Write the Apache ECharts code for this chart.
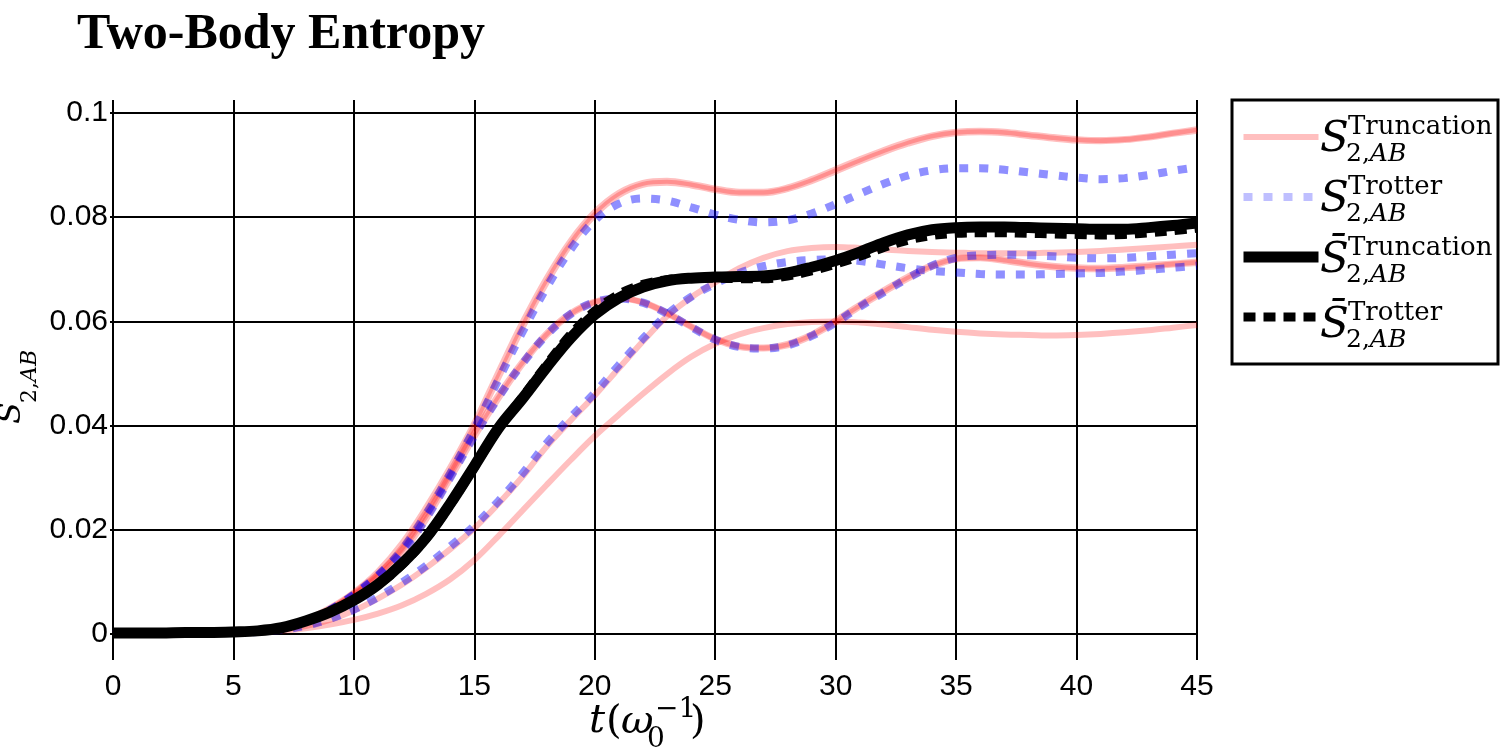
<!DOCTYPE html>
<html>
<head>
<meta charset="utf-8">
<script src="https://cdn.jsdelivr.net/npm/echarts@6/dist/echarts.min.js"></script>
<style>
  html, body { margin: 0; padding: 0; background: #fff; }
  #chart { width: 1500px; height: 750px; }
</style>
</head>
<body>
<div id="chart"></div>
<script>
// time axis, t = 0..45
const times = [0,1,2,3,4,5,6,7,8,9,10,11,12,13,14,15,16,17,18,19,20,21,22,23,24,25,26,27,28,29,30,31,32,33,34,35,36,37,38,39,40,41,42,43,44,45];

// truncation runs (pink)
const truncA = [0.0000,0.0001,0.0001,0.0002,0.0002,0.0003,0.0006,0.0012,0.0027,0.0050,
  0.0080,0.0120,0.0174,0.0243,0.0320,0.0405,0.0503,0.0598,0.0683,0.0755,
  0.0810,0.0847,0.0866,0.0870,0.0864,0.0855,0.0849,0.0849,0.0857,0.0873,
  0.0892,0.0911,0.0929,0.0945,0.0957,0.0964,0.0966,0.0964,0.0959,0.0954,
  0.0950,0.0948,0.0950,0.0955,0.0962,0.0969];
const truncA2 = [0.0000,0.0001,0.0001,0.0002,0.0002,0.0003,0.0006,0.0011,0.0025,0.0047,
  0.0076,0.0114,0.0166,0.0235,0.0312,0.0397,0.0492,0.0588,0.0674,0.0748,
  0.0804,0.0842,0.0862,0.0866,0.0861,0.0852,0.0846,0.0846,0.0854,0.0869,
  0.0888,0.0907,0.0925,0.0941,0.0954,0.0961,0.0963,0.0961,0.0956,0.0951,
  0.0947,0.0946,0.0948,0.0953,0.0960,0.0966];
const truncB = [0.0000,0.0001,0.0001,0.0002,0.0002,0.0003,0.0005,0.0011,0.0024,0.0045,
  0.0074,0.0110,0.0155,0.0220,0.0298,0.0378,0.0452,0.0518,0.0573,0.0613,
  0.0636,0.0644,0.0636,0.0615,0.0589,0.0565,0.0551,0.0548,0.0554,0.0572,
  0.0598,0.0628,0.0656,0.0682,0.0705,0.0719,0.0721,0.0716,0.0709,0.0704,
  0.0701,0.0700,0.0702,0.0705,0.0709,0.0712];
const truncB2 = [0.0000,0.0001,0.0001,0.0002,0.0002,0.0003,0.0005,0.0012,0.0026,0.0048,
  0.0078,0.0115,0.0162,0.0228,0.0306,0.0386,0.0459,0.0523,0.0577,0.0616,
  0.0638,0.0645,0.0637,0.0617,0.0591,0.0567,0.0553,0.0550,0.0557,0.0575,
  0.0602,0.0632,0.0660,0.0686,0.0708,0.0721,0.0723,0.0719,0.0712,0.0707,
  0.0704,0.0703,0.0705,0.0708,0.0711,0.0715];
const truncC = [0.0000,0.0000,0.0001,0.0001,0.0002,0.0002,0.0004,0.0008,0.0015,0.0027,
  0.0045,0.0068,0.0095,0.0127,0.0163,0.0203,0.0250,0.0302,0.0360,0.0410,
  0.0458,0.0510,0.0562,0.0610,0.0646,0.0675,0.0702,0.0722,0.0735,0.0741,
  0.0743,0.0741,0.0738,0.0735,0.0733,0.0732,0.0731,0.0731,0.0731,0.0732,
  0.0733,0.0735,0.0738,0.0741,0.0744,0.0747];
const truncD = [0.0000,0.0000,0.0000,0.0001,0.0001,0.0002,0.0003,0.0006,0.0011,0.0018,
  0.0027,0.0039,0.0055,0.0077,0.0105,0.0142,0.0188,0.0237,0.0286,0.0334,
  0.0380,0.0421,0.0461,0.0499,0.0532,0.0557,0.0575,0.0587,0.0595,0.0599,
  0.0600,0.0598,0.0594,0.0589,0.0584,0.0580,0.0577,0.0575,0.0574,0.0573,
  0.0574,0.0576,0.0579,0.0583,0.0588,0.0593];

// trotter runs (blue), each one drawn for two coinciding runs
const trotA = [0.0000,0.0001,0.0001,0.0002,0.0002,0.0003,0.0006,0.0012,0.0025,0.0046,
  0.0076,0.0113,0.0162,0.0230,0.0308,0.0394,0.0488,0.0580,0.0665,0.0738,
  0.0794,0.0826,0.0836,0.0832,0.0819,0.0805,0.0795,0.0790,0.0794,0.0807,
  0.0825,0.0845,0.0864,0.0880,0.0890,0.0894,0.0894,0.0891,0.0886,0.0881,
  0.0876,0.0873,0.0875,0.0881,0.0889,0.0896];
const trotB = [0.0000,0.0001,0.0001,0.0002,0.0002,0.0003,0.0005,0.0011,0.0024,0.0046,
  0.0075,0.0111,0.0157,0.0222,0.0300,0.0380,0.0454,0.0519,0.0574,0.0614,
  0.0637,0.0644,0.0636,0.0615,0.0589,0.0565,0.0551,0.0548,0.0554,0.0572,
  0.0598,0.0628,0.0656,0.0683,0.0707,0.0722,0.0727,0.0728,0.0727,0.0725,
  0.0722,0.0721,0.0722,0.0725,0.0728,0.0731];
const trotC = [0.0000,0.0000,0.0001,0.0001,0.0002,0.0002,0.0004,0.0008,0.0016,0.0029,
  0.0047,0.0071,0.0099,0.0131,0.0168,0.0208,0.0255,0.0308,0.0366,0.0416,
  0.0463,0.0516,0.0567,0.0613,0.0647,0.0672,0.0693,0.0706,0.0714,0.0718,
  0.0719,0.0716,0.0709,0.0702,0.0697,0.0694,0.0691,0.0690,0.0690,0.0691,
  0.0692,0.0693,0.0696,0.0699,0.0703,0.0707];

// averages
const meanTrunc = [0.0002,0.0002,0.0002,0.0003,0.0003,0.0004,0.0006,0.0012,0.0025,0.0042,
  0.0065,0.0095,0.0135,0.0185,0.0250,0.0322,0.0395,0.0452,0.0512,0.0568,
  0.0613,0.0645,0.0666,0.0678,0.0683,0.0685,0.0686,0.0687,0.0693,0.0704,
  0.0717,0.0733,0.0751,0.0766,0.0776,0.0780,0.0781,0.0781,0.0780,0.0779,
  0.0778,0.0777,0.0777,0.0780,0.0784,0.0789];
const meanTrot = [0.0002,0.0002,0.0002,0.0003,0.0003,0.0004,0.0006,0.0012,0.0025,0.0042,
  0.0064,0.0094,0.0133,0.0183,0.0248,0.0320,0.0394,0.0455,0.0517,0.0575,
  0.0620,0.0652,0.0671,0.0680,0.0683,0.0683,0.0682,0.0682,0.0687,0.0697,
  0.0710,0.0725,0.0742,0.0756,0.0765,0.0769,0.0770,0.0770,0.0769,0.0768,
  0.0767,0.0766,0.0767,0.0770,0.0774,0.0779];

const xTicks = { min: 0, max: 45, interval: 5 };
const yTicks = { min: 0, max: 0.1, interval: 0.02 };
const legendSup = ['Truncation', 'Trotter', 'Truncation', 'Trotter'];

const PINK = 'rgba(255,0,0,0.25)';
const BLUE = 'rgba(0,0,255,0.25)';
const SERIF = '"DejaVu Serif"';

const pair = arr => times.map((t, i) => [t, arr[i]]);

function lineSeries(name, arr, color, width, dash) {
  return {
    type: 'line',
    name: name,
    data: pair(arr),
    symbol: 'none',
    showSymbol: false,
    smooth: 0.35,
    clip: false,
    silent: true,
    itemStyle: { color: color },
    lineStyle: { color: color, width: width, type: dash || 'solid', cap: 'butt' },
  };
}

const series = [];
[truncA, truncA2, truncB, truncB2, truncC, truncD].forEach(a => series.push(lineSeries('trunc', a, PINK, 6)));
[trotA, trotA, trotB, trotB, trotC, trotC].forEach(a => series.push(lineSeries('trot', a, BLUE, 8, [9, 11])));
series.push(lineSeries('truncMean', meanTrunc, '#000', 11));
series.push(lineSeries('trotMean', meanTrot, '#000', 9, [12, 8]));

// text helpers for the math labels
function txt(x, baseline, text, size, italic, align) {
  return {
    type: 'text',
    x: x,
    y: baseline - 0.35 * size,
    silent: true,
    style: {
      text: text,
      font: (italic ? 'italic ' : '') + size + 'px ' + SERIF,
      fill: '#000',
      align: align || 'left',
      verticalAlign: 'middle',
    },
  };
}
function subText(x, baseline, size) {
  return {
    type: 'text',
    x: x,
    y: baseline - 0.35 * size,
    silent: true,
    style: {
      text: '{r|2,}{i|AB}',
      fill: '#000',
      align: 'left',
      verticalAlign: 'middle',
      rich: {
        r: { font: size + 'px ' + SERIF, fill: '#000' },
        i: { font: 'italic ' + size + 'px ' + SERIF, fill: '#000' },
      },
    },
  };
}

const rowY = [137, 197, 258, 323];
const graphics = [
  { type: 'rect', shape: { x: 1232, y: 100, width: 266, height: 264 },
    style: { fill: 'rgba(0,0,0,0)', stroke: '#000', lineWidth: 3 }, silent: true, z: 10 },
];
rowY.forEach((yc, i) => {
  graphics.push(txt(1320, yc + 18, i < 2 ? 'S' : 'S\u0304', 42, true));
  graphics.push(txt(1348, yc - 1, legendSup[i], 26, false));
  graphics.push(subText(1346, yc + 26, 25));
});

// x axis name  t(ω0^-1)
graphics.push(txt(589, 736, 't', 40, true));
graphics.push(txt(606, 737, '(', 40, false));
graphics.push(txt(621, 737, 'ω', 40, true));
graphics.push(txt(647, 750, '0', 28, false));
graphics.push(txt(655, 720, '\u22121', 28, false));
graphics.push(txt(690, 737, ')', 40, false));

// y axis name  S_{2,AB}, rotated
graphics.push({
  type: 'group',
  x: 23,
  y: 424,
  rotation: Math.PI / 2,
  children: [
    { type: 'text', x: 0, y: -0.35 * 32, silent: true,
      style: { text: 'S', font: 'italic 32px ' + SERIF, fill: '#000', align: 'left', verticalAlign: 'middle' } },
    subText(21, 15, 22),
  ],
});

const axisBlack = { color: '#000', width: 2 };

const myChart = echarts.init(document.getElementById('chart'));
const option = {
  backgroundColor: '#fff',
  animation: false,
  title: {
    text: 'Two-Body Entropy',
    left: 77,
    top: 10,
    padding: 0,
    textStyle: { fontFamily: '"Liberation Serif"', fontWeight: 'bold', fontSize: 50, color: '#000' },
  },
  legend: {
    left: 1238,
    top: 127,
    orient: 'vertical',
    itemWidth: 75,
    itemHeight: 20,
    itemGap: 42,
    padding: 0,
    selectedMode: false,
    formatter: () => '',
    itemStyle: { opacity: 0 },
    data: [
      { name: 'trunc', lineStyle: { color: PINK, width: 6, type: 'solid' } },
      { name: 'trot', lineStyle: { color: BLUE, width: 8, type: [9, 11] } },
      { name: 'truncMean', lineStyle: { color: '#000', width: 11, type: 'solid' } },
      { name: 'trotMean', lineStyle: { color: '#000', width: 9, type: [12, 8] } },
    ],
  },
  grid: { left: 113, right: 303, top: 113, bottom: 116 },
  xAxis: [{
    type: 'value',
    min: xTicks.min, max: xTicks.max, interval: xTicks.interval,
    axisLine: { show: true, lineStyle: axisBlack },
    axisTick: { show: true, length: 26, lineStyle: axisBlack },
    axisLabel: { margin: 38, fontFamily: '"Liberation Sans"', fontSize: 30, color: '#000' },
    splitLine: { show: true, lineStyle: axisBlack },
  }, {
    type: 'value',
    position: 'top',
    min: xTicks.min, max: xTicks.max, interval: xTicks.interval,
    axisLine: { show: false },
    axisTick: { show: true, length: 13, lineStyle: axisBlack },
    axisLabel: { show: false },
    splitLine: { show: false },
  }],
  yAxis: {
    type: 'value',
    min: yTicks.min, max: yTicks.max, interval: yTicks.interval,
    axisLine: { show: true, lineStyle: axisBlack },
    axisTick: { show: true, length: 3, lineStyle: axisBlack },
    axisLabel: { margin: 5, fontFamily: '"Liberation Sans"', fontSize: 30, color: '#000' },
    splitLine: { show: true, lineStyle: axisBlack },
  },
  graphic: graphics,
  series: series,
};
myChart.setOption(option);
</script>
</body>
</html>
